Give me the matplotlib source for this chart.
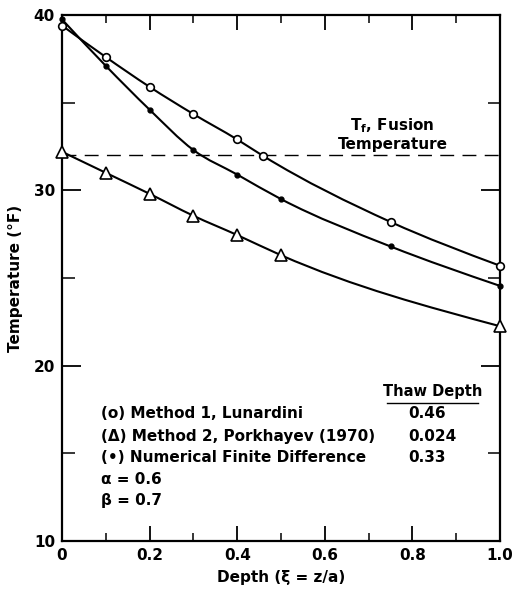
import numpy as np
import matplotlib
matplotlib.use("Agg")
import matplotlib.pyplot as plt
from matplotlib.path import Path
from matplotlib.patches import PathPatch

# values
depth_m1 = [0.0, 0.1, 0.2, 0.3, 0.4, 0.46, 0.75, 1.0]
temp_m1 = [39.4, 37.6, 35.9, 34.35, 32.9, 31.95, 28.2, 25.7]

depth_m2 = [0.0, 0.1, 0.2, 0.3, 0.4, 0.5, 1.0]
temp_m2 = [32.2, 31.0, 29.8, 28.55, 27.45, 26.3, 22.25]

depth_fd = [0.0, 0.1, 0.2, 0.3, 0.4, 0.5, 0.75, 1.0]
temp_fd = [39.75, 37.1, 34.6, 32.3, 30.9, 29.5, 26.8, 24.55]

fusion_temp = 32.0

legend_rows = ["(o) Method 1, Lunardini",
               "(\u0394) Method 2, Porkhayev (1970)",
               "(\u2022) Numerical Finite Difference"]
thaw_depths = ["0.46", "0.024", "0.33"]
params = ["\u03b1 = 0.6", "\u03b2 = 0.7"]

plt.rcParams['font.family'] = ['DejaVu Sans']
plt.rcParams['font.weight'] = 'bold'


def smooth_curve(ax, xs, ys):
    # cubic Hermite through the points, drawn as Bezier segments
    x = np.asarray(xs, float)
    y = np.asarray(ys, float)
    h = np.diff(x)
    d = np.diff(y) / h
    m = np.empty_like(x)
    m[1:-1] = (d[:-1] * h[1:] + d[1:] * h[:-1]) / (h[:-1] + h[1:])
    m[0] = (3 * d[0] - m[1]) / 2
    m[-1] = (3 * d[-1] - m[-2]) / 2
    verts = [(x[0], y[0])]
    codes = [Path.MOVETO]
    for i in range(len(x) - 1):
        verts += [(x[i] + h[i] / 3, y[i] + m[i] * h[i] / 3),
                  (x[i + 1] - h[i] / 3, y[i + 1] - m[i + 1] * h[i] / 3),
                  (x[i + 1], y[i + 1])]
        codes += [Path.CURVE4] * 3
    ax.add_patch(PathPatch(Path(verts, codes), fill=False, lw=1.5,
                           color='black', zorder=2))


fig = plt.figure(figsize=(5.13, 5.92), dpi=100)
ax = fig.add_axes([62/513, 1 - 541/592, 438/513, 526/592])

smooth_curve(ax, depth_m1, temp_m1)
smooth_curve(ax, depth_m2, temp_m2)
smooth_curve(ax, depth_fd, temp_fd)

ax.plot(depth_m1, temp_m1, 'o', ms=5.5, mfc='white', mec='black', mew=1.2,
        zorder=3, clip_on=False)
ax.plot(depth_m2, temp_m2, '^', ms=8.5, mfc='white', mec='black', mew=1.2,
        zorder=3, clip_on=False)
ax.plot(depth_fd, temp_fd, 'o', ms=3.5, color='black', zorder=3,
        clip_on=False)

ax.axhline(fusion_temp, color='black', lw=1.0, ls=(0, (10, 6)), zorder=1)

ax.set_xlim(0, 1.0)
ax.set_ylim(10, 40)
for s in ax.spines.values():
    s.set_linewidth(1.6)

ax.set_xticks([0, 0.2, 0.4, 0.6, 0.8, 1.0])
ax.set_xticklabels(["0", "0.2", "0.4", "0.6", "0.8", "1.0"])
ax.set_xticks(np.arange(0.1, 1.0, 0.2), minor=True)
ax.set_yticks([10, 20, 30, 40])
ax.set_yticks([15, 25, 35], minor=True)
ax.tick_params(which='both', direction='in', top=True, right=True)
ax.tick_params(which='major', length=11, width=1.3, labelsize=11, pad=5)
ax.tick_params(which='minor', length=6, width=1.1)
ax.tick_params(axis='y', which='major', length=14)
ax.tick_params(axis='y', which='minor', length=9)

ax.set_xlabel("Depth (\u03be = z/a)", fontsize=11, fontweight='bold',
              labelpad=5)
ax.set_ylabel("Temperature (\u00b0F)", fontsize=11, fontweight='bold',
              labelpad=8)

ax.text(0.754, 33.7, "T$_{\\mathregular{f}}$, Fusion", fontsize=11,
        ha='center', va='center')
ax.text(0.756, 32.6, "Temperature", fontsize=11, ha='center', va='center')

ax.text(0.846, 18.55, "Thaw Depth", fontsize=10.5, ha='center', va='center')
ax.plot([0.742, 0.95], [17.87, 17.87], color='black', lw=1.0)

row_y = [17.3, 15.98, 14.79]
for label, val, yv in zip(legend_rows, thaw_depths, row_y):
    ax.text(0.09, yv, label, fontsize=11, va='center')
    ax.text(0.79, yv, val, fontsize=11, va='center')

for label, yv in zip(params, [13.53, 12.33]):
    ax.text(0.09, yv, label, fontsize=11, va='center')

fig.savefig("out.png", dpi=100)
